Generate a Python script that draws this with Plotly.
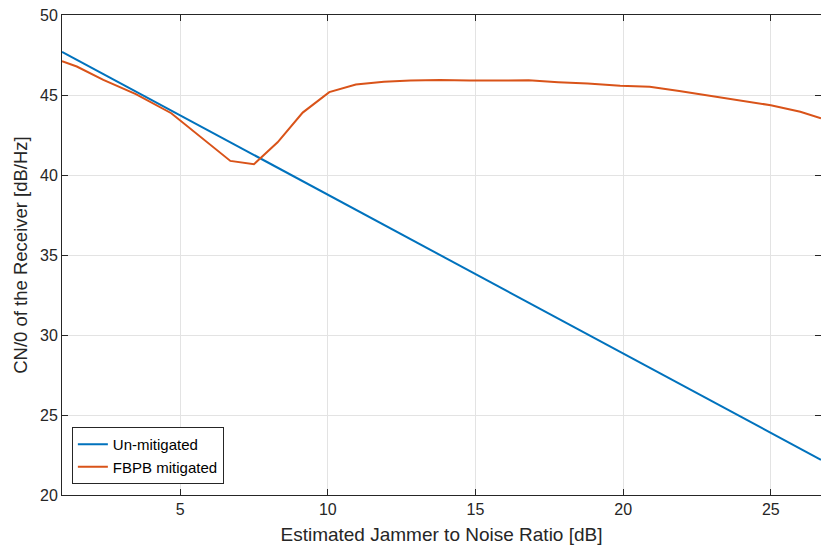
import plotly.graph_objects as go

# Estimated J/N (dB) and receiver CN/0 (dB/Hz)
jnr_unmitigated = [1.0, 26.7]
cn0_unmitigated = [47.7, 22.2]

jnr_fbpb = [1.0, 1.5, 2.4, 3.5, 4.7, 5.7, 6.7, 7.5, 8.3, 9.15, 10.05, 10.95,
            11.9, 12.8, 13.8, 14.8, 15.8, 16.8, 17.8, 18.8, 19.9, 20.9,
            21.9, 22.9, 23.9, 25.0, 26.0, 26.7]
cn0_fbpb = [47.12, 46.78, 45.95, 45.05, 43.86, 42.35, 40.88, 40.68, 42.04, 43.9,
            45.18, 45.66, 45.83, 45.9, 45.93, 45.9, 45.92, 45.92, 45.8, 45.72,
            45.58, 45.52, 45.25, 44.95, 44.65, 44.36, 43.95, 43.55]

x_ticks = [5, 10, 15, 20, 25]
y_ticks = [20, 25, 30, 35, 40, 45, 50]

fig = go.Figure()
fig.add_trace(go.Scatter(x=jnr_unmitigated, y=cn0_unmitigated, mode="lines",
                         name="Un-mitigated", line=dict(color="#0072BD", width=2)))
fig.add_trace(go.Scatter(x=jnr_fbpb, y=cn0_fbpb, mode="lines",
                         name="FBPB mitigated", line=dict(color="#D95319", width=2)))

axis_common = dict(
    showgrid=True, gridcolor="#e3e3e3", gridwidth=1,
    showline=True, linecolor="#262626", linewidth=1, mirror="ticks",
    ticks="inside", ticklen=6, tickcolor="#262626",
    tickfont=dict(family="Liberation Sans, Arial, sans-serif", size=16, color="#262626"),
    zeroline=False,
)

fig.update_layout(
    width=821, height=551,
    margin=dict(l=62, r=0, t=15, b=56),
    paper_bgcolor="white", plot_bgcolor="white",
    font=dict(family="Liberation Sans, Arial, sans-serif", color="#262626"),
    xaxis=dict(range=[1, 26.7], tickvals=x_ticks,
               title=dict(text="Estimated Jammer to Noise Ratio [dB]",
                          font=dict(size=19), standoff=10),
               **axis_common),
    yaxis=dict(range=[20, 50], tickvals=y_ticks,
               title=dict(text="CN/0 of the Receiver [dB/Hz]",
                          font=dict(size=18.5), standoff=7),
               **axis_common),
    legend=dict(x=0.013, y=0.023, xanchor="left", yanchor="bottom",
                bgcolor="white", bordercolor="#262626", borderwidth=1,
                font=dict(size=15, color="#000000"),
                tracegroupgap=0, itemwidth=30),
    showlegend=True,
)

fig.write_html("out.html")
